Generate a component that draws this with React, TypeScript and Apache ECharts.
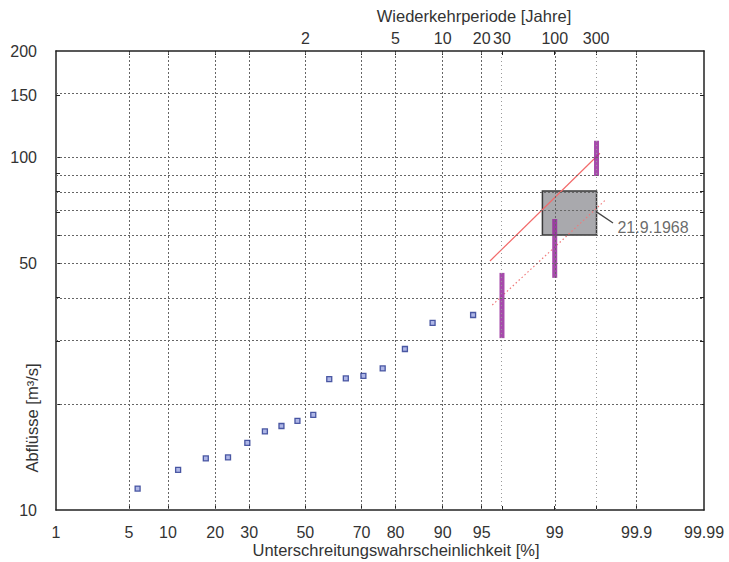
import React, { useEffect, useRef } from "react";
import * as echarts from "echarts";

// ---- data (raw units: percent non-exceedance, m³/s) ----
const xTickPercents = [1, 5, 10, 20, 30, 50, 70, 80, 90, 95, 99, 99.9, 99.99];
const xGridPercents = [5, 10, 20, 30, 50, 70, 80, 90, 95, 99, 99.9];
const returnPeriods = [2, 5, 10, 20, 30, 100, 300];
const returnGridPeriods = [30, 300];
const yTickLabels = [10, 50, 100, 150, 200];
const yGridValues = [20, 30, 40, 50, 60, 70, 80, 90, 100, 150];

const observedProb = [5.88, 11.76, 17.65, 23.53, 29.41, 35.29, 41.18, 47.06, 52.94, 58.82, 64.71, 70.59, 76.47, 82.35, 88.24, 94.12];
const observedFlow = [11.5, 13.0, 14.0, 14.1, 15.5, 16.7, 17.3, 17.9, 18.6, 23.5, 23.6, 24.0, 25.2, 28.6, 33.9, 35.7];

const intervalProb = [96.67, 99, 99.67];
const intervalLow = [30.7, 45.5, 88.5];
const intervalHigh = [47.0, 66.8, 111.4];

const fitProb = [95.75, 99.7];
const fitFlow = [50.8, 102.6];
const lowerProb = [95.94, 99.75];
const lowerFlow = [38.1, 76.0];

const boxProb = [98.65, 99.67];
const boxFlow = [60.2, 80.2];

const leaderProb = [99.67, 99.795];
const leaderFlow = [70, 65.1];
const noteProb = 99.82;
const noteFlow = 63.0;
const noteText = "21.9.1968";

// ---- scale helpers (normal probability / log10) ----
function probit(p: number): number {
  const a = [-3.969683028665376e1, 2.209460984245205e2, -2.759285104469687e2, 1.38357751867269e2, -3.066479806614716e1, 2.506628277459239];
  const b = [-5.447609879822406e1, 1.615858368580409e2, -1.556989798598866e2, 6.680131188771972e1, -1.328068155288572e1];
  const c = [-7.784894002430293e-3, -3.223964580411365e-1, -2.400758277161838, -2.549732539343734, 4.374664141464968, 2.938163982698783];
  const d = [7.784695709041462e-3, 3.224671290700398e-1, 2.445134137142996, 3.754408661907416];
  const pl = 0.02425;
  if (p < pl) {
    const q = Math.sqrt(-2 * Math.log(p));
    return (((((c[0] * q + c[1]) * q + c[2]) * q + c[3]) * q + c[4]) * q + c[5]) / ((((d[0] * q + d[1]) * q + d[2]) * q + d[3]) * q + 1);
  }
  if (p <= 1 - pl) {
    const q = p - 0.5;
    const r = q * q;
    return ((((((a[0] * r + a[1]) * r + a[2]) * r + a[3]) * r + a[4]) * r + a[5]) * q) / (((((b[0] * r + b[1]) * r + b[2]) * r + b[3]) * r + b[4]) * r + 1);
  }
  const q = Math.sqrt(-2 * Math.log(1 - p));
  return -(((((c[0] * q + c[1]) * q + c[2]) * q + c[3]) * q + c[4]) * q + c[5]) / ((((d[0] * q + d[1]) * q + d[2]) * q + d[3]) * q + 1);
}
const zx = (pct: number) => probit(pct / 100);
const tx = (T: number) => zx(100 * (1 - 1 / T));
const ly = (v: number) => Math.log10(v);

const FONT = "Liberation Sans";
const TEXT = "#333";
const EPS = 1e-9;
const LABEL_SIZE = 16;
const TITLE_SIZE = 16.5;

// grid layout (pixels)
const GRID_LEFT = 56;
const GRID_TOP = 51;
const GRID_RIGHT = 25;
const GRID_BOTTOM = 52;
const CHART_W = 729;
const CHART_H = 562;

function nearestLabel(vals: number[], labels: number[], v: number) {
  const x = Number(v);
  let best = 0;
  for (let i = 1; i < vals.length; i++) {
    if (Math.abs(vals[i] - x) < Math.abs(vals[best] - x)) best = i;
  }
  return String(labels[best]);
}

export default function App() {
  const ref = useRef<HTMLDivElement>(null);
  useEffect(() => {
    if (!ref.current) return;
    const chart = echarts.init(ref.current, undefined, { renderer: "svg" });

    const xTickVals = xTickPercents.map(zx);
    // the axis drops the 90 % label in this setup, so it is added as text at the axis position of 90 %
    const axisLabelPercents = xTickPercents.filter((p) => p !== 90);
    const extraLabelPercents = xTickPercents.filter((p) => p === 90);
    const topVals = returnPeriods.map(tx);
    const yTickVals = yTickLabels.map(ly);
    const allXTicks = [...xGridPercents.map(zx), ...returnGridPeriods.map(tx)].sort((a, b) => a - b);
    const yTickAll = yGridValues.map(ly);

    const gridStyle = { color: "#666", width: 1, type: [2, 2] as any };
    const lightGridStyle = { color: "#999", width: 1, type: [1, 3] as any };

    const markLineData: any[] = [
      ...xGridPercents.map((p) => ({ xAxis: zx(p), lineStyle: gridStyle })),
      ...returnGridPeriods.map((T) => ({ xAxis: tx(T), lineStyle: lightGridStyle })),
      ...yGridValues.map((v) => ({ yAxis: ly(v), lineStyle: gridStyle })),
    ];

    const frameLine = { show: true, onZero: false, lineStyle: { color: "#222", width: 1.5 } };
    const labelBase = { fontSize: LABEL_SIZE, fontFamily: FONT, color: TEXT, hideOverlap: false, showMinLabel: true, showMaxLabel: true };
    const xMin = zx(1) - EPS;
    const xMax = zx(99.99) + EPS;
    const yMin = 1 - EPS;
    const yMax = ly(200) + EPS;

    // fallback linear mapping of the value axis onto the grid
    const plotW = CHART_W - GRID_LEFT - GRID_RIGHT;
    const axisY = CHART_H - GRID_BOTTOM;
    const xToPx = (v: number) => GRID_LEFT + ((v - xMin) / (xMax - xMin)) * plotW;

    const titles: any[] = [
      {
        id: "topTitle",
        type: "text",
        x: 474,
        y: 16,
        style: { text: "Wiederkehrperiode [Jahre]", textAlign: "center", textVerticalAlign: "middle", fontSize: TITLE_SIZE, fontFamily: FONT, fill: TEXT },
      },
      {
        id: "bottomTitle",
        type: "text",
        x: 396,
        y: 550,
        style: { text: "Unterschreitungswahrscheinlichkeit [%]", textAlign: "center", textVerticalAlign: "middle", fontSize: TITLE_SIZE, fontFamily: FONT, fill: TEXT },
      },
      {
        id: "yTitle",
        type: "text",
        x: 32,
        y: 418,
        rotation: Math.PI / 2,
        style: { text: "Abflüsse [m³/s]", textAlign: "center", textVerticalAlign: "middle", fontSize: TITLE_SIZE, fontFamily: FONT, fill: TEXT },
      },
    ];

    const extraLabels: any[] = extraLabelPercents.map((p, i) => ({
      id: "xExtraLabel" + i,
      type: "text",
      x: xToPx(zx(p)),
      y: axisY + 14,
      z: 100,
      style: { text: String(p), textAlign: "center", textVerticalAlign: "top", fontSize: LABEL_SIZE, fontFamily: FONT, fill: TEXT },
    }));

    chart.setOption({
      animation: false,
      backgroundColor: "#fff",
      grid: { left: GRID_LEFT, top: GRID_TOP, right: GRID_RIGHT, bottom: GRID_BOTTOM, containLabel: false },
      xAxis: [
        {
          type: "value",
          position: "bottom",
          min: xMin,
          max: xMax,
          axisLine: frameLine,
          splitLine: { show: false },
          axisTick: { show: true, inside: true, length: 4, customValues: allXTicks, lineStyle: { color: "#222" } },
          axisLabel: {
            ...labelBase,
            customValues: axisLabelPercents.map(zx),
            margin: 14,
            formatter: (v: number) => nearestLabel(xTickVals, xTickPercents, v),
          },
        },
        {
          type: "value",
          position: "top",
          min: xMin,
          max: xMax,
          axisLine: frameLine,
          splitLine: { show: false },
          axisTick: { show: true, inside: true, length: 4, customValues: allXTicks, lineStyle: { color: "#222" } },
          axisLabel: {
            ...labelBase,
            customValues: topVals,
            margin: 5,
            formatter: (v: number) => nearestLabel(topVals, returnPeriods, v),
          },
        },
      ],
      yAxis: [
        {
          type: "value",
          position: "left",
          min: yMin,
          max: yMax,
          axisLine: frameLine,
          splitLine: { show: false },
          axisTick: { show: true, inside: true, length: 4, customValues: yTickAll, lineStyle: { color: "#222" } },
          axisLabel: {
            ...labelBase,
            customValues: yTickVals,
            margin: 19,
            formatter: (v: number) => nearestLabel(yTickVals, yTickLabels, v),
          },
        },
        {
          type: "value",
          position: "right",
          min: yMin,
          max: yMax,
          axisLine: frameLine,
          splitLine: { show: false },
          axisTick: { show: true, inside: true, length: 4, customValues: yTickAll, lineStyle: { color: "#222" } },
          axisLabel: { show: false },
        },
      ],
      graphic: [...titles, ...extraLabels],
      series: [
        {
          type: "line",
          name: "box",
          z: 1,
          data: [],
          markArea: {
            silent: true,
            itemStyle: { color: "#a9a9ad", opacity: 1, borderColor: "#3a3a3a", borderWidth: 1.5 },
            label: { show: false },
            data: [[{ coord: [zx(boxProb[0]), ly(boxFlow[0])] }, { coord: [zx(boxProb[1]), ly(boxFlow[1])] }]],
          },
        },
        {
          type: "line",
          name: "grid",
          z: 2,
          data: [],
          markLine: { silent: true, symbol: ["none", "none"], label: { show: false }, data: markLineData },
        },
        {
          type: "line",
          name: "fit",
          z: 3,
          symbol: "none",
          lineStyle: { color: "#f26a6a", width: 1.2 },
          data: fitProb.map((p, i) => [zx(p), ly(fitFlow[i])]),
        },
        {
          type: "line",
          name: "lower",
          z: 3,
          symbol: "none",
          lineStyle: { color: "#f07a7a", width: 1.2, type: [1.5, 2.5] },
          data: lowerProb.map((p, i) => [zx(p), ly(lowerFlow[i])]),
        },
        {
          type: "line",
          name: "leader",
          z: 3,
          symbol: "none",
          lineStyle: { color: "#444", width: 1.3 },
          data: leaderProb.map((p, i) => [zx(p), ly(leaderFlow[i])]),
        },
        ...intervalProb.map((p, i) => ({
          type: "line",
          name: "interval" + i,
          z: 4,
          symbol: "none",
          lineStyle: { color: "#962c9c", width: 5, opacity: 0.85, cap: "butt" },
          data: [
            [zx(p), ly(intervalLow[i])],
            [zx(p), ly(intervalHigh[i])],
          ],
        })),
        {
          type: "scatter",
          name: "observed",
          z: 5,
          symbol: "rect",
          symbolSize: 5,
          itemStyle: { color: "#9aa4e0", borderColor: "#26368f", borderWidth: 1.3 },
          data: observedProb.map((p, i) => [zx(p), ly(observedFlow[i])]),
        },
        {
          type: "scatter",
          name: "note",
          z: 5,
          symbolSize: 0,
          label: { show: true, position: "right", distance: 0, formatter: noteText, fontSize: LABEL_SIZE, fontFamily: FONT, color: "#444" },
          data: [[zx(noteProb), ly(noteFlow)]],
        },
      ],
    } as any);

    // refine the extra label's x with the axis' own mapping when available
    try {
      const px = chart.convertToPixel({ xAxisIndex: 0 } as any, zx(90)) as any;
      if (typeof px === "number" && Number.isFinite(px)) {
        chart.setOption({ graphic: extraLabels.map((g) => ({ id: g.id, x: px })) } as any);
      }
    } catch (e) {
      // keep fallback position
    }

    return () => chart.dispose();
  }, []);
  return <div ref={ref} style={{ position: "absolute", left: 0, top: 0, width: CHART_W, height: CHART_H, background: "#fff" }} />;
}
